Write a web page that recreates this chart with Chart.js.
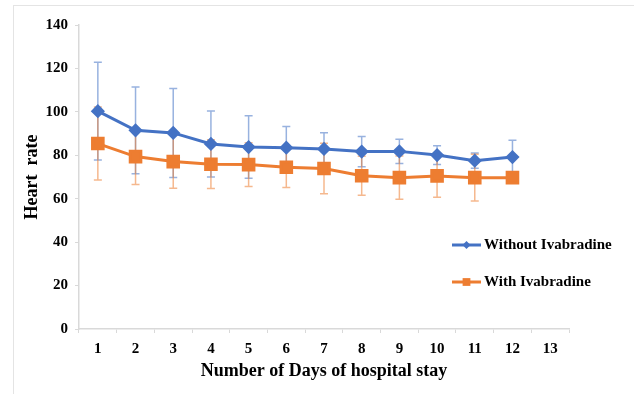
<!DOCTYPE html>
<html>
<head>
<meta charset="utf-8">
<script src="https://cdn.jsdelivr.net/npm/chart.js@4.4.1/dist/chart.umd.min.js"></script>
<style>
  body { margin: 0; background: #fff; }
  #wrap { position: relative; width: 634px; height: 394px; overflow: hidden; }
  #frame { position: absolute; left: 13px; top: 5px; width: 640px; height: 400px; border: 1px solid #e4e4e4; }
  canvas { position: absolute; left: 0; top: 0; }
</style>
</head>
<body>
<div id="wrap">
  <div id="frame"></div>
  <canvas id="hrChart" width="634" height="394"></canvas>
</div>
<script>
// data
const days = ['1', '2', '3', '4', '5', '6', '7', '8', '9', '10', '11', '12', '13'];
const withoutMean = [100.3, 91.5, 90.3, 85.2, 83.8, 83.5, 82.9, 81.7, 81.8, 80.1, 77.5, 79.2, null];
const withoutSD = [22.5, 20, 20.5, 15.2, 14.4, 9.8, 7.5, 7.0, 5.6, 4.3, 3.5, 7.7, null];
const withMean = [85.4, 79.4, 77.1, 75.9, 75.7, 74.5, 73.9, 70.6, 69.7, 70.5, 69.7, 69.7, null];
const withSD = [16.8, 12.8, 12.3, 11.2, 10.1, 9.3, 11.6, 9.0, 10.0, 9.8, 10.8, 0, null];
const yTicks = [0, 20, 40, 60, 80, 100, 120, 140];

const BLUE = '#4472C4';
const ORANGE = '#ED7D31';
const FONT = '"Liberation Serif", "Times New Roman", serif';

// error bars (mean +/- SD), drawn under the lines
const errorBars = {
    id: 'errorBars',
    beforeDatasetsDraw(chart) {
        const ctx = chart.ctx;
        const x = chart.scales.x, y = chart.scales.y;
        chart.data.datasets.forEach(ds => {
            ctx.save();
            ctx.strokeStyle = ds.errColor;
            ctx.lineWidth = 1.5;
            ds.data.forEach((v, i) => {
                const sd = ds.sd[i];
                if (v == null || !sd) return;
                const px = x.getPixelForValue(i);
                const top = y.getPixelForValue(v + sd);
                const bot = y.getPixelForValue(v - sd);
                ctx.beginPath();
                ctx.moveTo(px, top); ctx.lineTo(px, bot);
                ctx.moveTo(px - 4, top); ctx.lineTo(px + 4, top);
                ctx.moveTo(px - 4, bot); ctx.lineTo(px + 4, bot);
                ctx.stroke();
            });
            ctx.restore();
        });
    }
};

// legend sits inside the plot, lower right
const innerLegend = {
    id: 'innerLegend',
    afterDraw(chart) {
        const ctx = chart.ctx;
        const rows = [245, 282];
        chart.data.datasets.forEach((ds, i) => {
            const yy = rows[i];
            ctx.save();
            ctx.strokeStyle = ds.borderColor;
            ctx.lineWidth = 3;
            ctx.beginPath();
            ctx.moveTo(452, yy); ctx.lineTo(481, yy);
            ctx.stroke();
            ctx.fillStyle = ds.borderColor;
            Chart.helpers.drawPoint(ctx, {
                pointStyle: ds.pointStyle,
                radius: ds.pointStyle === 'rect' ? 5.5 : 4,
                rotation: 0,
                borderWidth: 0
            }, 466.5, yy);
            ctx.fillStyle = '#000';
            ctx.font = 'bold 15px ' + FONT;
            ctx.textBaseline = 'middle';
            ctx.fillText(ds.label, 484, yy);
            ctx.restore();
        });
    }
};

new Chart(document.getElementById('hrChart'), {
    type: 'line',
    data: {
        labels: days,
        datasets: [
            {
                label: 'Without Ivabradine',
                data: withoutMean,
                sd: withoutSD,
                errColor: 'rgba(68, 114, 196, 0.55)',
                borderColor: BLUE,
                backgroundColor: BLUE,
                borderWidth: 3,
                pointStyle: 'rectRot',
                pointRadius: 5,
                pointHoverRadius: 5,
                tension: 0
            },
            {
                label: 'With Ivabradine',
                data: withMean,
                sd: withSD,
                errColor: 'rgba(237, 125, 49, 0.55)',
                borderColor: ORANGE,
                backgroundColor: ORANGE,
                borderWidth: 3,
                pointStyle: 'rect',
                pointRadius: 7.5,
                pointHoverRadius: 7.5,
                tension: 0
            }
        ]
    },
    options: {
        responsive: false,
        animation: false,
        layout: { padding: { top: 25, right: 65, bottom: 0, left: 0 } },
        plugins: {
            legend: { display: false },
            tooltip: { enabled: false }
        },
        scales: {
            x: {
                offset: true,
                afterFit: s => { s.height = 65; },
                grid: { offset: true, drawOnChartArea: false, tickLength: 4, color: '#d9d9d9' },
                border: { color: '#d9d9d9', width: 1.5 },
                ticks: { color: '#000', padding: 7, font: { family: FONT, size: 15, weight: 'bold' } },
                title: {
                    display: true,
                    text: 'Number of Days of hospital stay',
                    color: '#000',
                    padding: { top: 0, bottom: 12 },
                    font: { family: FONT, size: 18, weight: 'bold' }
                }
            },
            y: {
                min: 0,
                max: 140,
                afterFit: s => { s.width = 79; },
                afterBuildTicks: s => { s.ticks = yTicks.map(v => ({ value: v })); },
                grid: { drawOnChartArea: false, tickLength: 4, color: '#d9d9d9' },
                border: { color: '#d9d9d9', width: 1.5 },
                ticks: { color: '#000', padding: 7, font: { family: FONT, size: 15, weight: 'bold' } },
                title: {
                    display: true,
                    text: 'Heart  rate',
                    color: '#000',
                    padding: { top: 22, bottom: 0 },
                    font: { family: FONT, size: 18, weight: 'bold' }
                }
            }
        }
    },
    plugins: [errorBars, innerLegend]
});
</script>
</body>
</html>
